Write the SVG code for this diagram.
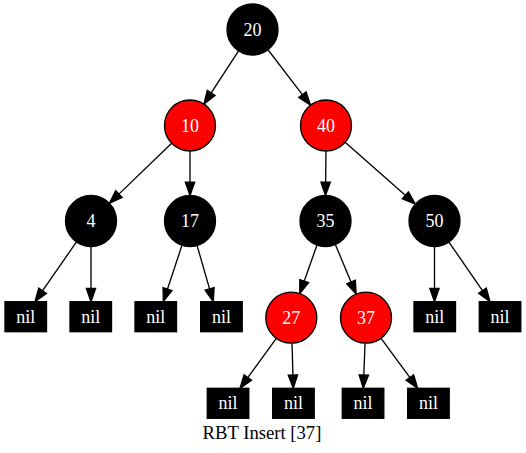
<svg xmlns="http://www.w3.org/2000/svg" width="526" height="453" viewBox="0 0 526 453">
<style>
.blk{fill:#000;stroke:#000;stroke-width:1.33}
.red{fill:#ff0000;stroke:#000;stroke-width:1.33}
.nil{fill:#000;stroke:#000;stroke-width:1.33}
.t{font-family:"Liberation Serif","Times New Roman",serif;font-size:18px;fill:#fff;text-anchor:middle}
.lbl{font-family:"Liberation Serif","Times New Roman",serif;font-size:18.67px;fill:#000;text-anchor:middle}
.e{stroke:#000;stroke-width:1.33;fill:none;marker-end:url(#arr)}
</style>
<defs>
<marker id="arr" markerUnits="userSpaceOnUse" markerWidth="16" markerHeight="12" refX="3.3" refY="4.67" orient="auto" overflow="visible">
<path d="M0,0 L13.3,4.67 L0,9.33 z" fill="#000" stroke="#000" stroke-width="1.33"/>
</marker>
</defs>
<g id="connectors">
<line class="e" x1="238.59" y1="50.87" x2="209.4" y2="95.7"/>
<line class="e" x1="268" y1="49.75" x2="304.42" y2="97.31"/>
<line class="e" x1="171.65" y1="143.2" x2="116.55" y2="196.36"/>
<line class="e" x1="190" y1="151" x2="190" y2="185.5"/>
<line class="e" x1="326" y1="151" x2="325.6" y2="185.5"/>
<line class="e" x1="345.14" y1="142.35" x2="407.85" y2="197.54"/>
<line class="e" x1="76.46" y1="241.95" x2="40.7" y2="293.48"/>
<line class="e" x1="91" y1="246.5" x2="91" y2="291.7"/>
<line class="e" x1="181.99" y1="245.21" x2="166.44" y2="292.21"/>
<line class="e" x1="197.07" y1="245.5" x2="210.53" y2="292.09"/>
<line class="e" x1="317" y1="245.03" x2="303.13" y2="284.24"/>
<line class="e" x1="335.35" y1="244.52" x2="352.29" y2="284.96"/>
<line class="e" x1="434.5" y1="246.5" x2="434.5" y2="291.7"/>
<line class="e" x1="448.95" y1="242.01" x2="484.33" y2="293.46"/>
<line class="e" x1="276.31" y1="338.33" x2="245.88" y2="380.21"/>
<line class="e" x1="292.02" y1="343.19" x2="293.02" y2="378.3"/>
<line class="e" x1="365.03" y1="343.18" x2="363.68" y2="378.31"/>
<line class="e" x1="381.07" y1="338.27" x2="411.79" y2="380.23"/>
</g>
<g id="n20"><circle class="blk" cx="252.5" cy="29.5" r="25.5"/><text class="t" x="252.5" y="35.5">20</text></g>
<g id="n10"><circle class="red" cx="190" cy="125.5" r="25.5"/><text class="t" x="190" y="131.5">10</text></g>
<g id="n40"><circle class="red" cx="326" cy="125.5" r="25.5"/><text class="t" x="326" y="131.5">40</text></g>
<g id="n4"><circle class="blk" cx="91" cy="221" r="25.5"/><text class="t" x="91" y="227">4</text></g>
<g id="n17"><circle class="blk" cx="190" cy="221" r="25.5"/><text class="t" x="190" y="227">17</text></g>
<g id="n35"><circle class="blk" cx="325.5" cy="221" r="25.5"/><text class="t" x="325.5" y="227">35</text></g>
<g id="n50"><circle class="blk" cx="434.5" cy="221" r="25.5"/><text class="t" x="434.5" y="227">50</text></g>
<g id="n27"><circle class="red" cx="291.3" cy="317.7" r="25.5"/><text class="t" x="291.3" y="323.7">27</text></g>
<g id="n37"><circle class="red" cx="366" cy="317.7" r="25.5"/><text class="t" x="366" y="323.7">37</text></g>
<g id="nil1"><rect class="nil" x="5" y="301.7" width="41.5" height="30"/><text class="t" x="25.75" y="322.7">nil</text></g>
<g id="nil2"><rect class="nil" x="70" y="301.7" width="41.5" height="30"/><text class="t" x="90.75" y="322.7">nil</text></g>
<g id="nil3"><rect class="nil" x="135" y="301.7" width="41.5" height="30"/><text class="t" x="155.75" y="322.7">nil</text></g>
<g id="nil4"><rect class="nil" x="200.7" y="301.7" width="41.5" height="30"/><text class="t" x="221.45" y="322.7">nil</text></g>
<g id="nil5"><rect class="nil" x="414" y="301.7" width="41.5" height="30"/><text class="t" x="434.75" y="322.7">nil</text></g>
<g id="nil6"><rect class="nil" x="479.3" y="301.7" width="41.5" height="30"/><text class="t" x="500.05" y="322.7">nil</text></g>
<g id="nil7"><rect class="nil" x="207.3" y="388.3" width="41.5" height="30"/><text class="t" x="228.05" y="409.3">nil</text></g>
<g id="nil8"><rect class="nil" x="272.7" y="388.3" width="41.5" height="30"/><text class="t" x="293.45" y="409.3">nil</text></g>
<g id="nil9"><rect class="nil" x="342.3" y="388.3" width="41.5" height="30"/><text class="t" x="363.05" y="409.3">nil</text></g>
<g id="nil10"><rect class="nil" x="407.7" y="388.3" width="41.5" height="30"/><text class="t" x="428.45" y="409.3">nil</text></g>
<g id="label"><text class="lbl" x="262" y="439.3">RBT Insert [37]</text></g>
</svg>
